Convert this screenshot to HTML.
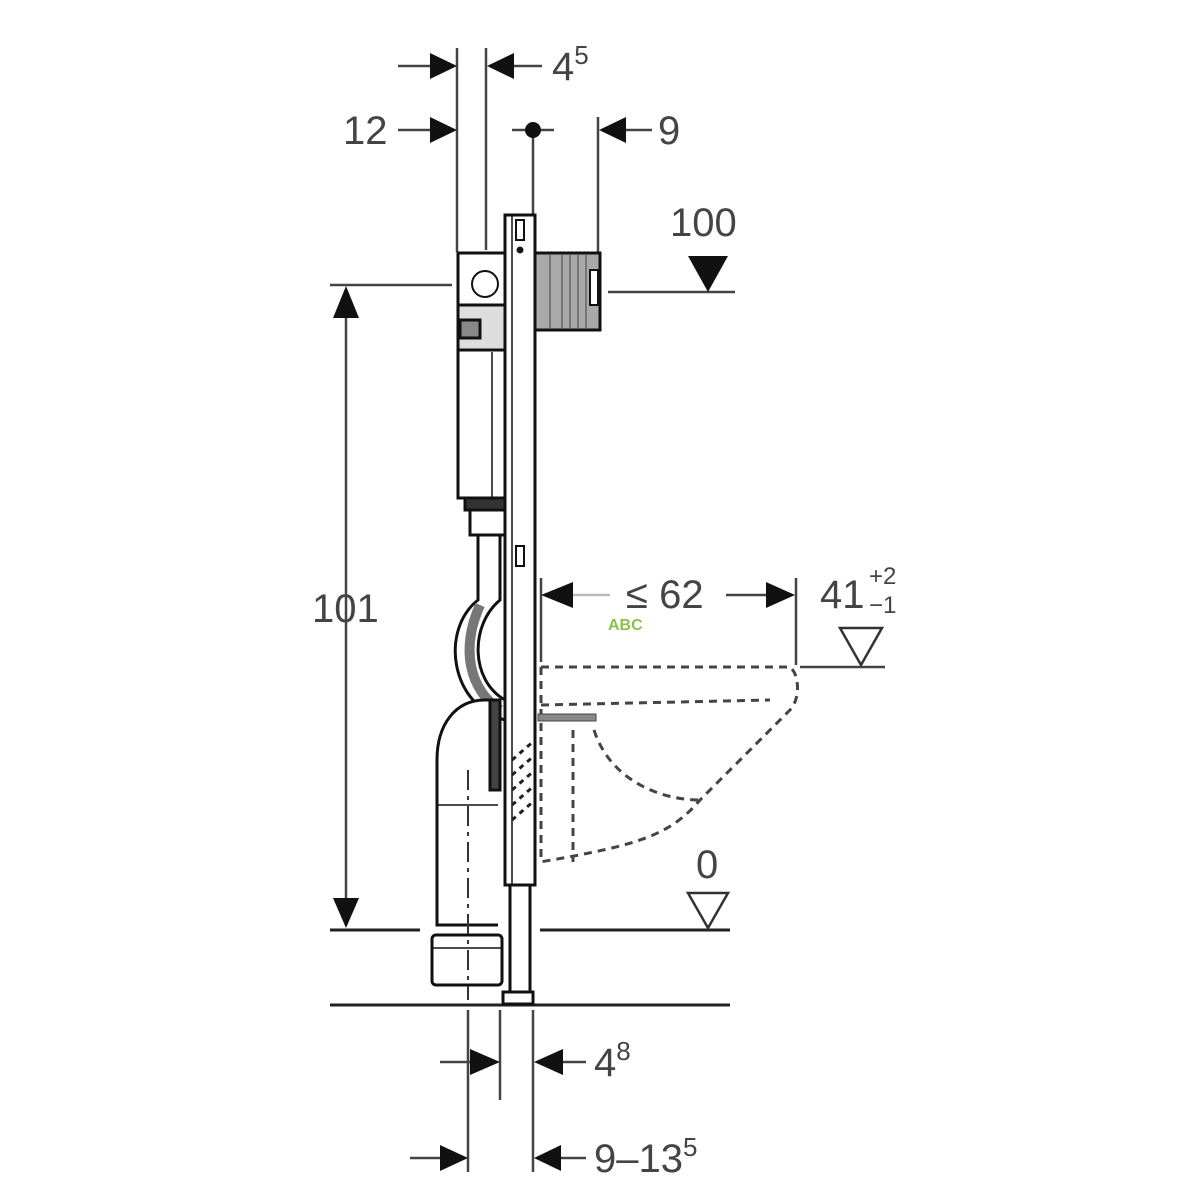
<!DOCTYPE html>
<html><head><style>html,body{margin:0;padding:0;background:#fff}svg{display:block}</style></head>
<body>
<svg width="1200" height="1200" viewBox="0 0 1200 1200" xmlns="http://www.w3.org/2000/svg" font-family="Liberation Sans, sans-serif" fill="none" stroke="#222">
<g stroke="#444" stroke-width="2.5">
<!-- top dimension lines -->
<line x1="457" y1="48" x2="457" y2="252"/>
<line x1="486" y1="48" x2="486" y2="250"/>
<line x1="533" y1="130" x2="533" y2="215"/>
<line x1="598" y1="117" x2="598" y2="255"/>
<line x1="398" y1="66" x2="432" y2="66"/>
<line x1="512" y1="66" x2="542" y2="66"/>
<line x1="398" y1="130" x2="432" y2="130"/>
<line x1="620" y1="130" x2="652" y2="130"/>
<line x1="512" y1="130" x2="554" y2="130"/>
<line x1="330" y1="285" x2="452" y2="285"/>
<line x1="608" y1="292" x2="735" y2="292"/>
<line x1="346" y1="310" x2="346" y2="905"/>
<!-- 62 -->
<line x1="541" y1="578" x2="541" y2="662"/>
<line x1="796" y1="578" x2="796" y2="665"/>
<line x1="726" y1="595" x2="768" y2="595"/>
<line x1="570" y1="595" x2="610" y2="595" stroke="#bbb"/>
<line x1="800" y1="667" x2="885" y2="667"/>
<!-- bottom dims -->
<line x1="468" y1="1010" x2="468" y2="1172"/>
<line x1="500" y1="1010" x2="500" y2="1100"/>
<line x1="533" y1="1010" x2="533" y2="1172"/>
<line x1="440" y1="1062" x2="474" y2="1062"/>
<line x1="558" y1="1062" x2="586" y2="1062"/>
<line x1="410" y1="1158" x2="442" y2="1158"/>
<line x1="558" y1="1158" x2="586" y2="1158"/>
</g>
<g stroke="#222" stroke-width="3">
<line x1="330" y1="930" x2="420" y2="930"/>
<line x1="540" y1="930" x2="730" y2="930"/>
<line x1="330" y1="1005" x2="730" y2="1005"/>
</g>
<!-- arrowheads -->
<g fill="#111" stroke="none">
<polygon points="430,53 457,66 430,79"/>
<polygon points="514,53 487,66 514,79"/>
<polygon points="430,117 457,130 430,143"/>
<polygon points="626,117 599,130 626,143"/>
<circle cx="533" cy="130" r="8"/>
<polygon points="333,318 359,318 346,286"/>
<polygon points="333,898 359,898 346,928"/>
<polygon points="688,256 728,256 708,292"/>
<polygon points="573,582 573,608 541,595"/>
<polygon points="766,582 766,608 795,595"/>
<polygon points="470,1049 470,1075 500,1062"/>
<polygon points="563,1049 563,1075 534,1062"/>
<polygon points="440,1145 440,1171 468,1158"/>
<polygon points="561,1145 561,1171 534,1158"/>
</g>
<!-- outline triangles -->
<g stroke="#333" stroke-width="2.5">
<polygon points="840,628 882,628 861,665"/>
<polygon points="688,893 728,893 708,928"/>
</g>
<!-- frame -->
<g stroke="#111" stroke-width="3">
<rect x="505" y="215" width="30" height="670" fill="#fff"/>
<rect x="510" y="885" width="20" height="115" fill="#fff"/>
<line x1="512" y1="215" x2="512" y2="885" stroke-width="1.5"/>
<rect x="503" y="992" width="30" height="12" fill="#fff"/>
</g>
<rect x="516" y="220" width="8" height="20" fill="none" stroke="#111" stroke-width="2"/>
<circle cx="520" cy="250" r="3" fill="#111"/>
<rect x="516" y="546" width="8" height="20" fill="#fff" stroke="#111" stroke-width="2"/>
<!-- grille -->
<rect x="535" y="253" width="65" height="77" fill="#aaa" stroke="#111" stroke-width="3"/>
<g stroke="#777" stroke-width="2"><line x1="550" y1="255" x2="550" y2="328"/><line x1="562" y1="255" x2="562" y2="328"/><line x1="570" y1="255" x2="570" y2="328"/><line x1="578" y1="255" x2="578" y2="328"/><line x1="586" y1="255" x2="586" y2="328"/></g>
<rect x="590" y="270" width="8" height="35" fill="#fff" stroke="#111" stroke-width="2"/>
<!-- cistern -->
<g stroke="#111" stroke-width="3" fill="#fff">
<rect x="458" y="253" width="47" height="52"/>
<circle cx="485" cy="284" r="13" fill="none" stroke-width="2"/>
<rect x="458" y="305" width="47" height="45" fill="#ddd"/>
<rect x="460" y="320" width="20" height="18" fill="#888"/>
<rect x="458" y="350" width="47" height="148"/>
<line x1="492" y1="352" x2="492" y2="498" stroke-width="1.5"/>
<rect x="465" y="498" width="40" height="12" fill="#333"/>
<rect x="470" y="510" width="35" height="25"/>
<!-- pipe loop -->
<path d="M478 535 L478 600 C440 630 450 705 505 720" stroke-width="3" fill="none"/>
<path d="M500 535 L500 600 C470 625 470 680 505 700" stroke-width="3" fill="none"/>
<path d="M480 605 C460 650 470 690 500 710" stroke="#777" stroke-width="10" fill="none"/>
<!-- elbow -->
<path d="M498 755 L498 700 L485 700 C455 700 437 725 437 760 L437 925 L498 925" />
<line x1="437" y1="805" x2="498" y2="805" stroke-width="1.5"/>
<rect x="490" y="700" width="10" height="90" fill="#444"/>
<rect x="432" y="935" width="70" height="50" rx="4"/>
<line x1="432" y1="948" x2="502" y2="948" stroke-width="1.5"/>
</g>
<line x1="468" y1="770" x2="468" y2="1000" stroke="#333" stroke-width="2" stroke-dasharray="20,6,4,6"/>
<g stroke="#222" stroke-width="3" stroke-dasharray="5,5">
<line x1="512" y1="760" x2="535" y2="740"/><line x1="512" y1="775" x2="535" y2="755"/><line x1="512" y1="790" x2="535" y2="770"/><line x1="512" y1="805" x2="535" y2="785"/><line x1="512" y1="820" x2="535" y2="800"/>
</g>
<!-- dashed toilet -->
<g stroke="#444" stroke-width="3" stroke-dasharray="8,6" fill="none">
<path d="M541 667 L790 667 C800 675 800 700 790 710 L700 800 C670 835 640 845 540 862"/>
<path d="M541 705 L770 700"/>
<path d="M594 730 C610 780 660 800 700 800"/>
<path d="M573 730 L573 862"/>
<path d="M541 667 L541 862"/>
</g>
<rect x="538" y="714" width="58" height="7" fill="#888" stroke="#444" stroke-width="1"/>
<!-- texts -->
<g fill="#444" stroke="none" font-size="40">
<text x="552" y="80">4<tspan font-size="26" dy="-16">5</tspan></text>
<text x="343" y="144">12</text>
<text x="658" y="144">9</text>
<text x="670" y="236">100</text>
<text x="312" y="622">101</text>
<text x="626" y="608">≤ 62</text>
<text x="820" y="608">41</text>
<text x="869" y="584" font-size="24">+2</text>
<text x="869" y="613" font-size="24">−1</text>
<text x="696" y="878">0</text>
<text x="594" y="1076">4<tspan font-size="26" dy="-16">8</tspan></text>
<text x="594" y="1172">9–13<tspan font-size="26" dy="-16">5</tspan></text>
</g>
<text x="608" y="630" font-size="16" font-weight="bold" fill="#8bc34a" stroke="none">ABC</text>
</svg>
</body></html>
